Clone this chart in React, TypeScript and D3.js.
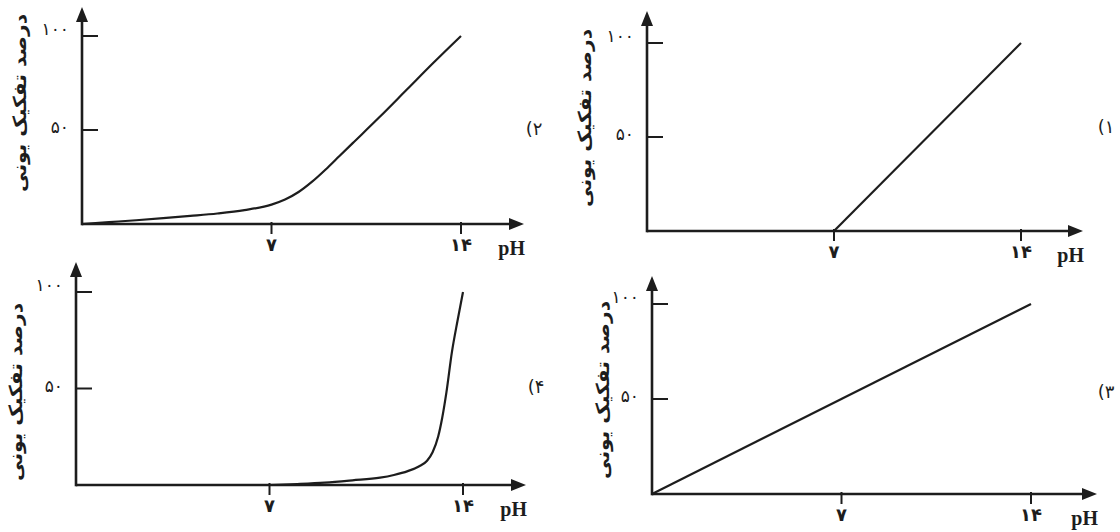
import React from 'react';
import * as d3 from 'd3';

const W = 1120;
const H = 532;

// axis text
const yTitle = 'درصد تفکیک یونی';
const xTitle = 'pH';
const xTicks = [7, 14];
const xTickLabels = ['۷', '۱۴'];
const yTicks = [50, 100];
const yTickLabels = ['۵۰', '۱۰۰'];

// option 1: zero until pH 7, then straight to 100 at pH 14
const ph1 = [7, 14];
const val1 = [0, 100];

// option 2: slow rise, then almost linear
const ph2 = [0, 1, 2, 3, 4, 5, 6, 7, 7.5, 8, 8.5, 9, 9.5, 10, 11, 12, 13, 14];
const val2 = [0, 1, 2, 3.1, 4.3, 5.6, 7.4, 10.3, 13, 17, 22.5, 29, 36, 43, 57, 71.5, 86, 100];

// option 3: straight line from the origin
const ph3 = [0, 14];
const val3 = [0, 100];

// option 4: flat from pH 7, sharp rise near 14
const ph4 = [7, 8, 9, 10, 11, 11.5, 12, 12.4, 12.7, 12.9, 13.1, 13.25, 13.4, 13.6, 13.8, 14];
const val4 = [0, 0.5, 1.2, 2.4, 3.8, 5.2, 7.2, 9.6, 12.6, 17, 25, 35, 48, 69, 85, 100];

const optionLabels = ['(۱', '(۲', '(۳', '(۴'];

type Panel = {
  ox: number; y0: number; x14: number; y100: number;
  top: number; right: number;
  titleX: number; titleY: number;
  labelX: number; labelY: number;
  ph: number[]; val: number[]; curve: d3.CurveFactory; label: string;
};

const panels: Panel[] = [
  { ox: 647, y0: 231, x14: 1021, y100: 43, top: 11, right: 1083, titleX: 586, titleY: 118, labelX: 1106, labelY: 128, ph: ph1, val: val1, curve: d3.curveLinear, label: optionLabels[0] },
  { ox: 82, y0: 224, x14: 461, y100: 36, top: 7, right: 524, titleX: 21, titleY: 103, labelX: 534, labelY: 130, ph: ph2, val: val2, curve: d3.curveMonotoneX, label: optionLabels[1] },
  { ox: 652, y0: 494, x14: 1031, y100: 304, top: 276, right: 1097, titleX: 604, titleY: 390, labelX: 1106, labelY: 393, ph: ph3, val: val3, curve: d3.curveLinear, label: optionLabels[2] },
  { ox: 76, y0: 485, x14: 463, y100: 292, top: 262, right: 526, titleX: 17, titleY: 392, labelX: 536, labelY: 388, ph: ph4, val: val4, curve: d3.curveMonotoneX, label: optionLabels[3] },
];

const ink = '#1d1d1d';
const fa = 'DejaVu Sans, sans-serif';

function Chart({ p }: { p: Panel }) {
  const x = d3.scaleLinear().domain([0, 14]).range([p.ox, p.x14]);
  const y = d3.scaleLinear().domain([0, 100]).range([p.y0, p.y100]);
  const pts = p.ph.map((v, i) => [v, p.val[i]] as [number, number]);
  const line = d3.line<[number, number]>().x(d => x(d[0])).y(d => y(d[1])).curve(p.curve);

  return (
    <g>
      {/* axes */}
      <line x1={p.ox} y1={p.y0} x2={p.right - 10} y2={p.y0} stroke={ink} strokeWidth={2.6} />
      <line x1={p.ox} y1={p.y0 + 1.3} x2={p.ox} y2={p.top + 10} stroke={ink} strokeWidth={2.6} />
      <polygon points={`${p.right},${p.y0} ${p.right - 15},${p.y0 - 6} ${p.right - 15},${p.y0 + 6}`} fill={ink} />
      <polygon points={`${p.ox},${p.top} ${p.ox - 6},${p.top + 15} ${p.ox + 6},${p.top + 15}`} fill={ink} />

      {xTicks.map((t, i) => (
        <g key={t}>
          <line x1={x(t)} x2={x(t)} y1={p.y0 - 2} y2={p.y0 + 10} stroke={ink} strokeWidth={2} />
          <text x={x(t)} y={p.y0 + 27} textAnchor="middle" fontFamily={fa} fontWeight="bold" fontSize={18} fill={ink}>{xTickLabels[i]}</text>
        </g>
      ))}
      {yTicks.map((t, i) => (
        <g key={t}>
          <line x1={p.ox} x2={p.ox + 16} y1={y(t)} y2={y(t)} stroke={ink} strokeWidth={2} />
          <text x={p.ox - 13} y={y(t) + (t === 100 ? -1 : 3)} textAnchor="end" fontFamily={fa} fontSize={17} fill={ink}>{yTickLabels[i]}</text>
        </g>
      ))}

      <text x={p.right + 1} y={p.y0 + 31} textAnchor="end" fontFamily="Liberation Serif, serif" fontWeight="bold" fontSize={20} fill={ink}>{xTitle}</text>

      <text transform={`translate(${p.titleX},${p.titleY}) rotate(-90)`} textAnchor="middle" dominantBaseline="middle"
        fontFamily={fa} fontWeight="bold" fontSize={18} fill={ink} textLength={178} lengthAdjust="spacingAndGlyphs">{yTitle}</text>

      <path d={line(pts) ?? ''} fill="none" stroke={ink} strokeWidth={2.2} />

      <text x={p.labelX} y={p.labelY} textAnchor="middle" dominantBaseline="middle" fontFamily={fa} fontSize={18} fill={ink}>{p.label}</text>
    </g>
  );
}

export default function App() {
  return (
    <svg width={W} height={H} style={{ position: 'absolute', left: 0, top: 0, background: '#fff' }}>
      <rect width={W} height={H} fill="#fff" />
      {panels.map((p, i) => <Chart key={i} p={p} />)}
    </svg>
  );
}
